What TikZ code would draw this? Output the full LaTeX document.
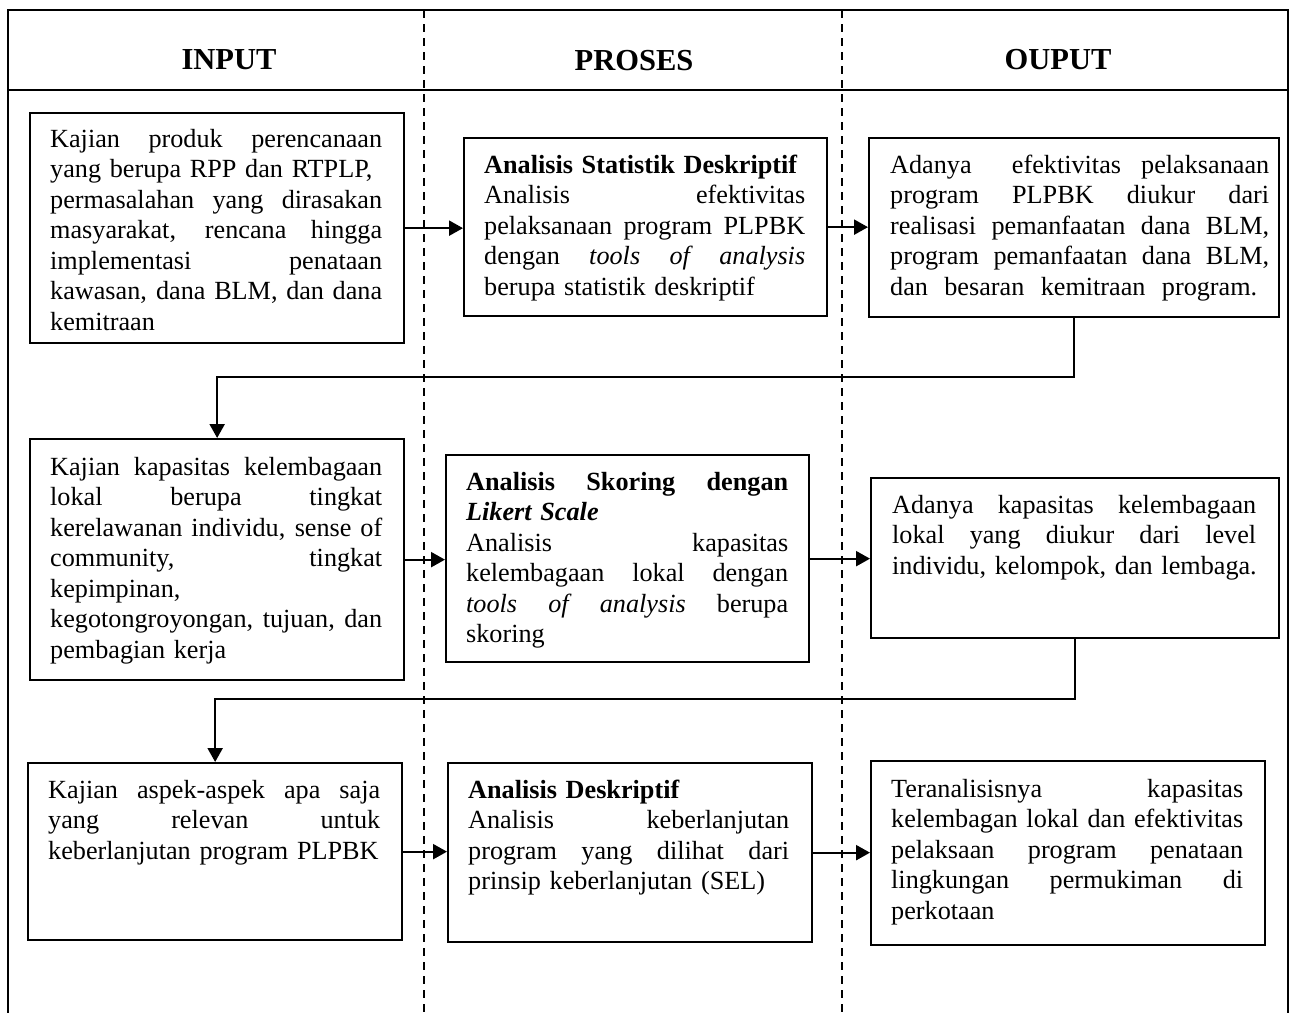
\documentclass[tikz,border=0pt]{standalone}
\usepackage{fontspec}
\setmainfont{Liberation Serif}
\usetikzlibrary{arrows.meta}

% body text size and helpers for set lines
\newcommand\bodyfont{\fontsize{26.2}{30.5}\selectfont\hyphenpenalty=10000\exhyphenpenalty=10000}
\newcommand\headfont{\fontsize{30.5}{36}\selectfont\bfseries}
% a line spread to the full text width
\newcommand\jfull[1]{\noindent\hbox to \hsize{\spaceskip=0.25em plus 1fil minus 0.05em #1}\par}
% a line spread to a given width
\newcommand\jwide[2]{\noindent\hbox to #1{\spaceskip=0.25em plus 1fil minus 0.05em #2}\par}
% a line at its natural width
\newcommand\jnat[1]{\noindent\hbox{#1}\par}

\begin{document}
\begin{tikzpicture}[x=1pt,y=-1pt,
  frame/.style={line width=2.6pt},
  lane/.style={line width=1.9pt, dash pattern=on 8pt off 6pt},
  head/.style={font=\headfont, inner sep=0pt, anchor=base},
  box/.style={draw, line width=2.3pt, inner sep=0pt, anchor=north west},
  txt/.style={font=\bodyfont, inner sep=0pt, anchor=base west, align=left},
  arr/.style={line width=2.3pt, -{Triangle[length=14pt,width=15pt]}}
]
\useasboundingbox (0,0) rectangle (1293,1012);

% outer frame and column header
\draw[frame] (8,1014) -- (8,10) -- (1288,10) -- (1288,1014);
\draw[frame] (8,90) -- (1288,90);
\draw[lane] (424,10) -- (424,1014);
\draw[lane] (842,10) -- (842,1014);

\node[head] (hin)  at (229,69) {INPUT};
\node[head] (hpro) at (634,70) {PROSES};
\node[head] (hout) at (1058,69) {OUPUT};

% ---- row 1 ----
\node[box, minimum width=374pt, minimum height=230pt] (a1) at (29,112) {};
\node[txt, text width=332pt] (a1t) at (50,147) {%
\jfull{Kajian produk perencanaan}
\jnat{yang berupa RPP dan RTPLP,}
\jfull{permasalahan yang dirasakan}
\jfull{masyarakat, rencana hingga}
\jfull{implementasi penataan}
\jfull{kawasan, dana BLM, dan dana}
\jnat{kemitraan}};

\node[box, minimum width=363pt, minimum height=178pt] (p1) at (463,137) {};
\node[txt, text width=321pt] (p1t) at (484,173) {%
\jnat{\textbf{Analisis Statistik Deskriptif}}
\jfull{Analisis efektivitas}
\jfull{pelaksanaan program PLPBK}
\jfull{dengan \textit{tools of analysis}}
\jnat{berupa statistik deskriptif}};

\node[box, minimum width=410pt, minimum height=179pt] (o1) at (868,137) {};
\node[txt, text width=379pt] (o1t) at (890,173) {%
\jfull{Adanya\ \ efektivitas pelaksanaan}
\jfull{program PLPBK diukur dari}
\jfull{realisasi pemanfaatan dana BLM,}
\jfull{program pemanfaatan dana BLM,}
\jwide{367pt}{dan besaran kemitraan program.}};

% ---- row 2 ----
\node[box, minimum width=374pt, minimum height=241pt] (a2) at (29,438) {};
\node[txt, text width=332pt] (a2t) at (50,475) {%
\jfull{Kajian kapasitas kelembagaan}
\jfull{lokal berupa tingkat}
\jfull{kerelawanan individu, sense of}
\jfull{community, tingkat}
\jnat{kepimpinan,}
\jfull{kegotongroyongan, tujuan, dan}
\jnat{pembagian kerja}};

\node[box, minimum width=363pt, minimum height=207pt] (p2) at (445,454) {};
\node[txt, text width=322pt] (p2t) at (466,490) {%
\jfull{\textbf{Analisis Skoring dengan}}
\jnat{\textbf{\textit{Likert Scale}}}
\jfull{Analisis kapasitas}
\jfull{kelembagaan lokal dengan}
\jfull{\textit{tools of analysis} berupa}
\jnat{skoring}};

\node[box, minimum width=408pt, minimum height=160pt] (o2) at (870,477) {};
\node[txt, text width=364pt] (o2t) at (892,513) {%
\jfull{Adanya kapasitas kelembagaan}
\jfull{lokal yang diukur dari level}
\jnat{individu, kelompok, dan lembaga.}};

% ---- row 3 ----
\node[box, minimum width=374pt, minimum height=177pt] (a3) at (27,762) {};
\node[txt, text width=332pt] (a3t) at (48,798) {%
\jfull{Kajian aspek-aspek apa saja}
\jfull{yang relevan untuk}
\jnat{keberlanjutan program PLPBK}};

\node[box, minimum width=364pt, minimum height=179pt] (p3) at (447,762) {};
\node[txt, text width=321pt] (p3t) at (468,798) {%
\jnat{\textbf{Analisis Deskriptif}}
\jfull{Analisis keberlanjutan}
\jfull{program yang dilihat dari}
\jnat{prinsip keberlanjutan (SEL)}};

\node[box, minimum width=394pt, minimum height=184pt] (o3) at (870,760) {};
\node[txt, text width=352pt] (o3t) at (891,797) {%
\jfull{Teranalisisnya kapasitas}
\jfull{kelembagan lokal dan efektivitas}
\jfull{pelaksaan program penataan}
\jfull{lingkungan permukiman di}
\jnat{perkotaan}};

% ---- connectors ----
\draw[arr] (a1.east) -- (a1.east -| p1.west);
\draw[arr] (p1.east) -- (p1.east -| o1.west);
\draw[arr] (a2.east) -- (a2.east -| p2.west);
\draw[arr] (p2.east) -- (p2.east -| o2.west);
\draw[arr] (a3.east) -- (a3.east -| p3.west);
\draw[arr] (p3.east) -- (p3.east -| o3.west);

\coordinate (r1) at (0,377);
\coordinate (r2) at (0,699);
\draw[arr] (o1.south) -- (o1.south |- r1) -- (a2.north |- r1) -- (a2.north);
\draw[arr] (o2.south) -- (o2.south |- r2) -- (a3.north |- r2) -- (a3.north);
\end{tikzpicture}
\end{document}
